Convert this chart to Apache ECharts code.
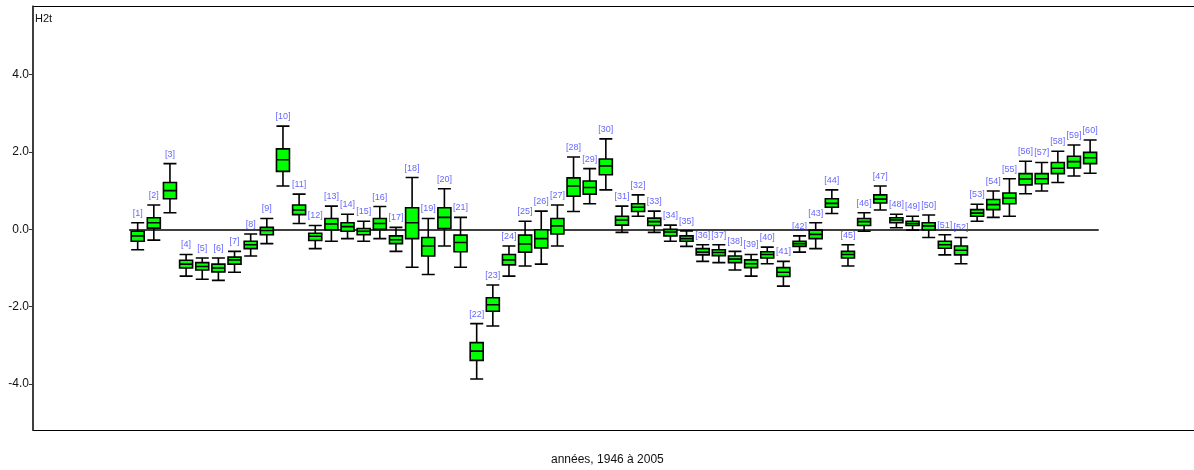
<!DOCTYPE html>
<html>
<head>
<meta charset="utf-8">
<script src="https://cdn.jsdelivr.net/npm/echarts@6/dist/echarts.min.js"></script>
<style>html,body{margin:0;padding:0;background:#fff}#c{width:1194px;height:470px}</style>
</head>
<body>
<div id="c"></div>
<script>
// Box labels / categories
const categories = Array.from({length: 60}, (_, i) => '[' + (i + 1) + ']');
// Values
const whiskerMax = [0.17,0.63,1.70,-0.65,-0.74,-0.74,-0.57,-0.12,0.28,2.67,
  0.91,0.10,0.60,0.39,0.21,0.59,0.05,1.34,0.28,1.05,
  0.31,-2.44,-1.44,-0.43,0.21,0.47,0.63,1.87,1.57,2.34,
  0.60,0.89,0.47,0.11,-0.04,-0.40,-0.40,-0.57,-0.65,-0.46,
  -0.83,-0.17,0.17,1.02,-0.40,0.43,1.12,0.39,0.34,0.37,
  -0.14,-0.21,0.65,0.99,1.31,1.76,1.73,2.02,2.18,2.31];
const q3 = [-0.05,0.30,1.21,-0.80,-0.86,-0.90,-0.72,-0.31,0.05,2.08,
  0.63,-0.10,0.28,0.17,0.02,0.28,-0.17,0.56,-0.21,0.56,
  -0.15,-2.93,-1.77,-0.65,-0.15,-0.01,0.28,1.33,1.25,1.82,
  0.34,0.66,0.29,0.00,-0.17,-0.50,-0.53,-0.69,-0.79,-0.58,
  -0.99,-0.31,-0.02,0.79,-0.57,0.28,0.89,0.30,0.21,0.17,
  -0.31,-0.43,0.51,0.77,0.94,1.44,1.44,1.73,1.89,1.99];
const median = [-0.17,0.17,1.00,-0.90,-0.96,-1.00,-0.79,-0.40,-0.03,1.80,
  0.50,-0.18,0.14,0.07,-0.05,0.15,-0.27,0.17,-0.43,0.31,
  -0.34,-3.15,-1.95,-0.79,-0.38,-0.24,0.09,1.12,1.08,1.64,
  0.24,0.57,0.20,-0.07,-0.24,-0.59,-0.60,-0.77,-0.89,-0.65,
  -1.11,-0.37,-0.13,0.67,-0.65,0.20,0.78,0.24,0.15,0.09,
  -0.40,-0.54,0.42,0.64,0.81,1.30,1.31,1.58,1.75,1.85];
const q1 = [-0.31,0.03,0.79,-1.00,-1.05,-1.10,-0.90,-0.50,-0.14,1.50,
  0.38,-0.29,-0.01,-0.05,-0.14,0.00,-0.37,-0.24,-0.69,0.02,
  -0.58,-3.39,-2.12,-0.92,-0.59,-0.48,-0.12,0.86,0.91,1.41,
  0.11,0.46,0.10,-0.17,-0.31,-0.66,-0.68,-0.86,-0.99,-0.74,
  -1.22,-0.44,-0.24,0.57,-0.74,0.10,0.68,0.17,0.10,-0.01,
  -0.49,-0.66,0.34,0.51,0.66,1.15,1.18,1.44,1.59,1.70];
const whiskerMin = [-0.53,-0.28,0.43,-1.21,-1.29,-1.32,-1.11,-0.69,-0.37,1.12,
  0.15,-0.50,-0.31,-0.24,-0.31,-0.24,-0.57,-0.98,-1.17,-0.43,
  -0.98,-3.87,-2.50,-1.21,-0.95,-0.90,-0.43,0.46,0.66,1.02,
  -0.08,0.34,-0.08,-0.31,-0.44,-0.83,-0.86,-1.05,-1.21,-0.89,
  -1.47,-0.59,-0.50,0.41,-0.95,-0.05,0.50,0.04,-0.02,-0.21,
  -0.66,-0.89,0.21,0.31,0.34,0.92,0.99,1.21,1.38,1.45];
const yTicks = [-4, -2, 0, 2, 4];
const yName = 'H2t';
const xName = 'années, 1946 à 2005';

const FONT = '"Liberation Sans", Arial, sans-serif';
const Y_MIN = -5.19, Y_MAX = 5.776;

const boxData = categories.map((_, i) => [whiskerMin[i], q1[i], median[i], q3[i], whiskerMax[i]]);
const labelData = categories.map((c, i) => [i, whiskerMax[i]]);

const chart = echarts.init(document.getElementById('c'), null, {renderer: 'canvas'});
chart.setOption({
  animation: false,
  backgroundColor: '#fff',
  textStyle: {fontFamily: FONT},
  grid: [
    {left: 33, top: 6, right: 0, bottom: 40, show: false},
    {left: 129.6, top: 6, right: 95.8, bottom: 40}
  ],
  xAxis: [
    {gridIndex: 0, type: 'value', min: 0, max: 1, show: false},
    {gridIndex: 1, type: 'category', data: categories, boundaryGap: true,
     axisLine: {show: true, onZero: true, lineStyle: {color: '#000', width: 1.5}},
     axisTick: {show: false}, axisLabel: {show: false}, splitLine: {show: false}}
  ],
  yAxis: [
    {gridIndex: 0, type: 'value', min: Y_MIN, max: Y_MAX,
     axisLine: {show: true, lineStyle: {color: '#333', width: 1.5}},
     axisTick: {show: true, length: 4, customValues: yTicks, lineStyle: {color: '#333'}},
     axisLabel: {show: true, customValues: yTicks, color: '#111', fontSize: 12, fontFamily: FONT, margin: 4,
       formatter: v => Number(v).toFixed(1)},
     splitLine: {show: false}},
    {gridIndex: 1, type: 'value', min: Y_MIN, max: Y_MAX, show: false, splitLine: {show: false}}
  ],
  graphic: [
    {type: 'polyline', shape: {points: [[1200, 6.5], [33, 6.5], [33, 430.5], [1200, 430.5]]},
     style: {stroke: '#000', lineWidth: 1.2, fill: null}, silent: true},
    {type: 'text', left: 35, top: 13, style: {text: yName, font: '11px ' + FONT, fill: '#111'}},
    {type: 'text', left: 551, top: 454, style: {text: xName, font: '12px ' + FONT, fill: '#111'}}
  ],
  series: [
    {type: 'boxplot', xAxisIndex: 1, yAxisIndex: 1, data: boxData, boxWidth: [13, 13],
     itemStyle: {color: '#00ff00', borderColor: '#000', borderWidth: 1.6},
     emphasis: {disabled: true}},
    {type: 'scatter', xAxisIndex: 1, yAxisIndex: 1, data: labelData, symbolSize: 0, silent: true,
     label: {show: true, position: 'top', distance: 5, color: '#3c3cff', fontSize: 9, fontFamily: FONT,
       formatter: p => categories[p.data[0]]}}
  ]
});
</script>
</body>
</html>
